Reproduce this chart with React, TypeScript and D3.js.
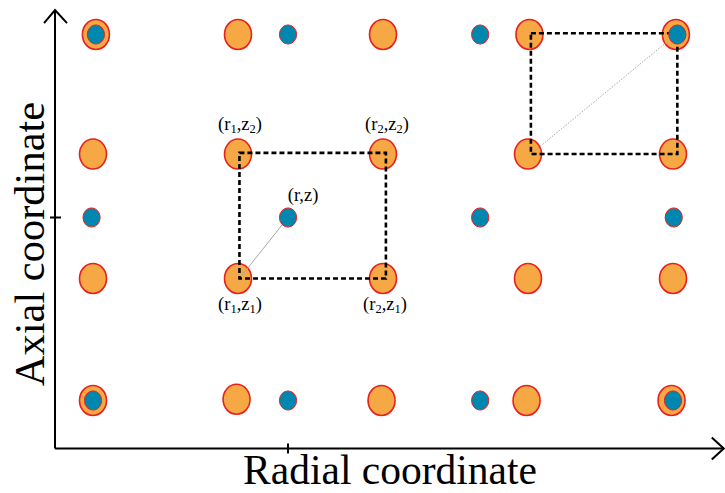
import React from "react";
import * as d3 from "d3";

// ---- data (radial r, axial z in grid units) ----
const orangeNodes: [number, number][] = [
  [0, 0], [0.99, 0.01], [1.99, 0], [2.99, 0], [3.99, 0],
  [0, 1], [1, 1], [2, 1], [3, 1], [4, 1],
  [0, 2.02], [1, 2.02], [2, 2.02], [3, 2.02], [4, 2.02],
  [0.02, 3], [1, 3], [2, 3], [3.01, 3], [4.02, 3],
];
const blueNodes: [number, number][] = [
  [0, 0], [1.345, 0], [2.67, 0], [4, 0],
  [-0.01, 1.5], [1.345, 1.5], [2.67, 1.5], [4.005, 1.5],
  [0.02, 3], [1.345, 3], [2.67, 3], [4.03, 3],
];
const cells: { r1: number; r2: number; z1: number; z2: number }[] = [
  { r1: 1.01, r2: 2.02, z1: 1.0, z2: 2.03 },
  { r1: 3.02, r2: 4.03, z1: 2.02, z2: 3.01 },
];
const links: { from: [number, number]; to: [number, number]; dotted: boolean }[] = [
  { from: [1.01, 1.0], to: [1.345, 1.5], dotted: false },
  { from: [3.02, 2.02], to: [4.02, 3.0], dotted: true },
];
type Label = { at: [number, number]; base: string; sub1?: string; mid: string; sub2?: string; dx: number; dy: number };
const labels: Label[] = [
  { at: [1, 2.02], base: "(r", sub1: "1", mid: ",z", sub2: "2", dx: 2, dy: -24 },
  { at: [2, 2.02], base: "(r", sub1: "2", mid: ",z", sub2: "2", dx: 4, dy: -24 },
  { at: [1.345, 1.5], base: "(r", mid: ",z", dx: 15, dy: -17 },
  { at: [1, 1], base: "(r", sub1: "1", mid: ",z", sub2: "1", dx: 2, dy: 31 },
  { at: [2, 1], base: "(r", sub1: "2", mid: ",z", sub2: "1", dx: 2, dy: 31 },
];
const rDomain: [number, number] = [-0.262, 4.35];
const zDomain: [number, number] = [-0.393, 3.2];
const rTick = 1.345;
const zTick = 1.5;
const xTitle = "Radial coordinate";
const yTitle = "Axial coordinate";

const W = 725;
const H = 493;

export default function App() {
  const x = d3.scaleLinear().domain([0, 4]).range([93, 673]);
  const y = d3.scaleLinear().domain([0, 3]).range([400.5, 34.5]);
  const x0 = x(rDomain[0]);
  const x1 = x(rDomain[1]);
  const y0 = y(zDomain[0]);
  const y1 = y(zDomain[1]);
  const font = "'Liberation Serif', 'Times New Roman', serif";
  const orange = "#F5A843";
  const red = "#E8201E";
  const blue = "#0087AF";

  return (
    <svg width={W} height={H} style={{ position: "absolute", left: 0, top: 0, background: "#fff" }} fontFamily={font}>
      {/* axes */}
      <g stroke="#000" strokeWidth={2} fill="none">
        <line x1={x0} y1={y0} x2={x0} y2={y1} />
        <line x1={x0} y1={y0} x2={x1} y2={y0} />
        <polyline points={`${x0 - 11},${y1 + 13} ${x0},${y1} ${x0 + 12},${y1 + 13}`} />
        <polyline points={`${x1 - 12},${y0 - 11} ${x1},${y0} ${x1 - 12},${y0 + 11}`} />
        <line x1={x(rTick)} y1={y0 - 5} x2={x(rTick)} y2={y0 + 5} />
        <line x1={x0 - 5} y1={y(zTick)} x2={x0 + 6} y2={y(zTick)} />
      </g>

      {/* orange nodes */}
      {orangeNodes.map((n, i) => (
        <ellipse key={"o" + i} cx={x(n[0])} cy={y(n[1])} rx={13.5} ry={15} fill={orange} stroke={red} strokeWidth={1.6} />
      ))}

      {/* links */}
      {links.map((l, i) => (
        <line
          key={"l" + i}
          x1={x(l.from[0])}
          y1={y(l.from[1])}
          x2={x(l.to[0])}
          y2={y(l.to[1])}
          stroke="#a8a8a8"
          strokeWidth={1}
          strokeDasharray={l.dotted ? "1.5,1.5" : undefined}
        />
      ))}

      {/* dashed cells */}
      {cells.map((c, i) => (
        <rect
          key={"c" + i}
          x={x(c.r1)}
          y={y(c.z2)}
          width={x(c.r2) - x(c.r1)}
          height={y(c.z1) - y(c.z2)}
          fill="none"
          stroke="#000"
          strokeWidth={2.6}
          strokeDasharray="5,3"
        />
      ))}

      {/* blue nodes */}
      {blueNodes.map((n, i) => (
        <ellipse key={"b" + i} cx={x(n[0])} cy={y(n[1])} rx={8.6} ry={9.6} fill={blue} stroke={red} strokeWidth={1} />
      ))}

      {/* labels */}
      {labels.map((l, i) => (
        <text key={"t" + i} x={x(l.at[0]) + l.dx} y={y(l.at[1]) + l.dy} textAnchor="middle" fontSize={18.5} fill="#000">
          {l.base}
          {l.sub1 && (
            <tspan fontSize={12.5} dy={3}>
              {l.sub1}
            </tspan>
          )}
          <tspan dy={l.sub1 ? -3 : 0}>{l.mid}</tspan>
          {l.sub2 && (
            <tspan fontSize={12.5} dy={3}>
              {l.sub2}
            </tspan>
          )}
          <tspan dy={l.sub2 ? -3 : 0}>)</tspan>
        </text>
      ))}

      {/* titles */}
      <text x={390} y={484} textAnchor="middle" fontSize={41.5} fill="#000">
        {xTitle}
      </text>
      <text transform={`translate(44,244) rotate(-90)`} textAnchor="middle" fontSize={42.5} fill="#000">
        {yTitle}
      </text>
    </svg>
  );
}
